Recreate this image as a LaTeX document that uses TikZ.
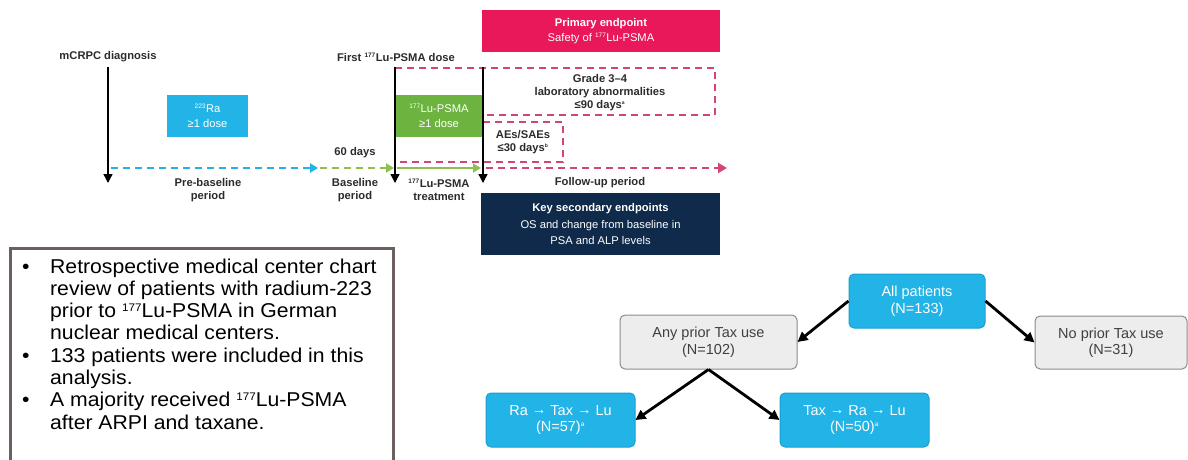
\documentclass[tikz,border=0pt]{standalone}
\usepackage{fontspec}
\setmainfont{Liberation Sans}
\usetikzlibrary{arrows.meta}
\definecolor{cyanbox}{HTML}{22B4E6}
\definecolor{cyanline}{HTML}{1A9FD0}
\definecolor{greenbox}{HTML}{6DB33F}
\definecolor{greenline}{HTML}{8CC152}
\definecolor{pinkbox}{HTML}{E8185A}
\definecolor{pinkline}{HTML}{D2457A}
\definecolor{navybox}{HTML}{0F2A4A}
\definecolor{txtdark}{HTML}{2B2B2B}
\definecolor{graybox}{HTML}{EDEDED}
\definecolor{grayline}{HTML}{8C8C8C}
\definecolor{graytxt}{HTML}{404040}
\definecolor{frame}{HTML}{6B605E}
\newcommand{\smsup}[1]{\textsuperscript{\fontsize{6.5}{6.5}\selectfont #1}}
\newcommand{\bigsup}[1]{\raisebox{6.4pt}{\fontsize{11}{11}\selectfont #1}}
\newcommand{\arr}{\raisebox{1.2pt}{→}}
\begin{document}
\begin{tikzpicture}[x=1pt,y=-1pt,
  lbl/.style={font=\fontsize{11.2}{13}\selectfont\bfseries, text=txtdark, align=center, inner sep=0pt},
  solidbox/.style={minimum height=42pt, inner sep=0pt, align=center, text=white, font=\fontsize{11.2}{14.5}\selectfont},
  vline/.style={line width=1.4pt, black, -{Triangle[width=9pt,length=9pt]}},
  tline/.style={line width=2pt, dash pattern=on 7pt off 5pt},
  pinkdash/.style={line width=1.6pt, pinkline, dash pattern=on 7pt off 5pt},
  rbox/.style={rounded corners=5pt, minimum height=54pt, inner sep=0pt, align=center, font=\fontsize{14.5}{16.5}\selectfont},
  bluebox/.style={rbox, fill=cyanbox, draw=cyanline, line width=1pt, text=white},
  greybox/.style={rbox, fill=graybox, draw=grayline, line width=1pt, text=graytxt},
  flow/.style={line width=2.8pt, black, -{Triangle[width=10pt,length=10pt]}}
]
\useasboundingbox (0,0) rectangle (1188,460);

% ---- timeline labels
\node[lbl] (diag) at (108,57) {mCRPC diagnosis};
\node[lbl] (first) at (396,57) {First \smsup{177}Lu-PSMA dose};
\coordinate (d1s) at (108,67);
\coordinate (d1e) at (108,183);
\coordinate (d2s) at (395,67);
\coordinate (d2e) at (395,183);
\coordinate (d3s) at (483,67);
\coordinate (d3e) at (483,183);

% ---- boxes
\node[solidbox, fill=cyanbox, minimum width=81pt] (ra) at (207.5,116) {\smsup{223}Ra\\≥1 dose};
\node[solidbox, fill=greenbox, minimum width=88pt] (lu) at (439,116) {\smsup{177}Lu-PSMA\\≥1 dose};
\node[solidbox, fill=pinkbox, minimum width=238pt] (prim) at (601,31) {\textbf{Primary endpoint}\\Safety of \smsup{177}Lu-PSMA};
\node[solidbox, fill=navybox, minimum width=239pt, minimum height=62pt, font=\fontsize{11.2}{16.5}\selectfont] (sec) at (600.5,224) {\textbf{Key secondary endpoints}\\OS and change from baseline in\\PSA and ALP levels};

% ---- pink dashed windows
\draw[pinkdash] (395,68) -- (715,68) -- (715,115) -- (483,115);
\draw[pinkdash] (483,122) -- (563,122) -- (563,162) -- (397,162);
\node[lbl] (grade) at (600,93) {Grade 3–4\\laboratory abnormalities\\≤90 days\textsuperscript{\fontsize{5}{5}\selectfont a}};
\node[lbl] (aes) at (523,142) {AEs/SAEs\\≤30 days\textsuperscript{\fontsize{5}{5}\selectfont b}};

% ---- horizontal timeline
\coordinate (h0) at (111,168);
\coordinate (h1) at (318,168);
\coordinate (h2) at (320,168);
\coordinate (h3) at (394,168);
\coordinate (h4) at (397,168);
\coordinate (h5) at (481,168);
\coordinate (h6) at (486,168);
\coordinate (h7) at (727,168);
\draw[tline, cyanbox, -{Triangle[width=9pt,length=8pt]}] (h0) -- (h1);
\draw[tline, greenline, -{Triangle[width=9pt,length=8pt]}] (h2) -- (h3);
\draw[line width=2pt, greenline, -{Triangle[width=9pt,length=8pt]}] (h4) -- (h5);
\draw[tline, pinkline, -{Triangle[width=10pt,length=9pt]}] (h6) -- (h7);

% ---- vertical arrows
\draw[vline] (d1s) -- (d1e);
\draw[vline] (d2s) -- (d2e);
\draw[vline] (d3s) -- (d3e);

% ---- period labels
\node[lbl] (days) at (355,153) {60 days};
\node[lbl] (pre) at (208,190) {Pre-baseline\\period};
\node[lbl] (base) at (355,190) {Baseline\\period};
\node[lbl] (trt) at (439,190) {\smsup{177}Lu-PSMA\\treatment};
\node[lbl] (fup) at (600,183) {Follow-up period};

% ---- bullet box
\draw[frame, line width=3pt] (10,465) -- (10,248) -- (393,248) -- (393,465);
\node[anchor=base west, inner sep=0pt, font=\fontsize{20}{22.3}\selectfont] (bul) at (22,273) {%
\scalebox{1.06}[1]{\begin{tabular}[t]{@{}p{26.4pt}@{}l@{}}
\textbullet & Retrospective medical center chart\\
 & review of patients with radium-223\\
 & prior to \bigsup{177}Lu-PSMA in German\\
 & nuclear medical centers.\\
\textbullet & 133 patients were included in this\\
 & analysis.\\
\textbullet & A majority received \bigsup{177}Lu-PSMA\\
 & after ARPI and taxane.
\end{tabular}}};

% ---- flowchart
\node[bluebox, minimum width=136pt] (allp) at (917,301) {All patients\\(N=133)};
\node[greybox, minimum width=177pt] (anyp) at (708.5,342) {Any prior Tax use\\(N=102)};
\node[greybox, minimum width=152pt, minimum height=53pt] (nop) at (1111,342.5) {No prior Tax use\\(N=31)};
\node[bluebox, minimum width=149pt] (rtl) at (560.5,420) {Ra \arr{} Tax \arr{} Lu\\(N=57)\smsup{a}};
\node[bluebox, minimum width=149pt] (trl) at (854.5,420) {Tax \arr{} Ra \arr{} Lu\\(N=50)\smsup{a}};
\draw[flow] (allp.west) -- (anyp.east);
\draw[flow] (allp.east) -- (nop.west);
\draw[flow] (anyp.south) -- (rtl.east);
\draw[flow] (anyp.south) -- (trl.west);
\end{tikzpicture}
\end{document}
